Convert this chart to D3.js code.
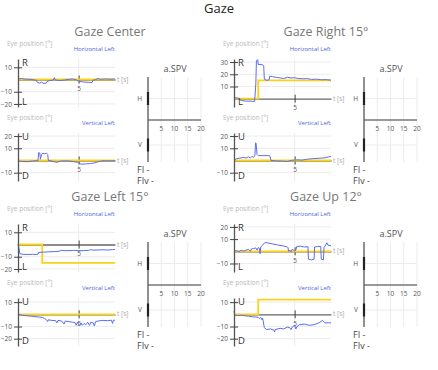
<!DOCTYPE html>
<html>
<head>
<meta charset="utf-8">
<style>
  body { margin: 0; background: #fff; font-family: "Open Sans", sans-serif; }
</style>
</head>
<body>
<div id="container"></div>
<script src="https://cdn.jsdelivr.net/npm/d3@7"></script>
<script>

// chart size
const width = 438;
const height = 370;

// ---- data ----
const panelTitles = ["Gaze Center", "Gaze Right 15°", "Gaze Left 15°", "Gaze Up 12°"];
const hLabels = ["Horizontal Left", "Horizontal Left", "Horizontal Left", "Horizontal Left"];
const vLabels = ["Vertical Left", "Vertical Left", "Vertical Left", "Vertical Left"];

const hDomains = [[-22.5, 16.8], [-6.8, 32.5], [-22.5, 16.8], [-17, 22.4]];
const vDomains = [[-16.8, 22.5], [-16.8, 22.5], [-26, 13.4], [-26, 13.4]];
const hTicks = [[10, -10, -20], [30, 20, 10], [10, -10, -20], [20, 10, -10]];
const vTicks = [[20, 10, -10], [20, 10, -10], [10, -10, -20], [10, -10, -20]];
const tTicks = [5];

// target positions [t, deg]
const centerHTarget = [[0, 0], [8, 0]];
const centerVTarget = [[0, 0], [8, 0]];
const rightHTarget = [[0, 0], [2, 0], [2, 15], [8, 15]];
const rightVTarget = [[0, 0], [8, 0]];
const leftHTarget = [[0, 0], [2, 0], [2, -15], [8, -15]];
const leftVTarget = [[0, 0], [8, 0]];
const upHTarget = [[0, 0], [8, 0]];
const upVTarget = [[0, 0], [2, 0], [2, 12], [8, 12]];

// eye positions [t, deg]
const centerH = [[0,0.5],[0.3,0.8],[0.6,0.3],[1.0,0.2],[1.3,-0.3],[1.5,-0.5],[1.6,-2.5],[1.8,-3],[1.95,-2],[2.05,-3.2],[2.3,-3],[2.4,-1.5],[2.6,-0.8],[2.9,-0.5],[3.0,1.5],[3.05,-0.3],[3.4,-0.8],[3.8,-0.5],[4.2,0.2],[4.5,0.5],[4.8,-0.2],[5.0,-1.5],[5.4,-2],[5.8,-2.3],[6.1,-2.5],[6.2,-0.5],[6.4,0],[6.6,0.8],[6.8,0.2],[7.2,0.5],[7.6,0.3],[8,0.4]];
const centerV = [[0,-0.5],[0.4,-0.8],[0.8,-1],[1.2,-0.5],[1.5,-0.2],[1.65,0],[1.7,6.5],[1.8,6],[1.85,1],[1.95,5],[2.05,6],[2.2,5.5],[2.35,6],[2.45,5],[2.5,0],[2.8,-0.5],[3.2,-1.5],[3.5,-0.5],[4,-0.3],[4.5,-0.8],[4.9,-1.5],[5.2,-3],[5.6,-2.8],[6,-2.5],[6.3,-2],[6.6,-1],[7,-0.2],[7.5,-0.3],[8,-0.2]];
const rightH = [[0,1],[0.3,0.5],[0.6,-1.5],[1.0,-2],[1.4,-2],[1.7,-2.2],[1.8,12],[1.85,31],[1.95,32],[2.0,28],[2.3,28],[2.45,27],[2.5,16],[2.7,15],[2.9,15.5],[2.95,18.5],[3.2,18],[3.5,17.5],[3.8,17],[4.1,16.5],[4.4,17.5],[4.7,17],[5.0,17.2],[5.3,16.5],[5.7,16.3],[6.0,16.5],[6.4,15.8],[6.8,16],[7.2,15.5],[7.6,15.6],[8,15.2]];
const rightV = [[0,0],[0.2,1.5],[0.5,2],[0.8,2.5],[1.0,2],[1.2,3],[1.35,2],[1.5,3.5],[1.6,2.5],[1.72,4],[1.78,14.5],[1.82,14],[1.9,5],[2.0,4],[2.4,4],[2.8,4],[2.95,3.8],[3.05,0],[3.5,-0.3],[4.0,-0.5],[4.4,-0.8],[4.8,0.2],[5.2,0.5],[5.6,0.3],[6.0,1.0],[6.5,1.5],[7.0,1.8],[7.5,2.2],[7.8,3],[8,3.2]];
const leftH = [[0,0],[0.08,-3],[0.15,-7.5],[0.4,-8],[0.8,-8.2],[1.2,-8],[1.5,-8.2],[1.65,-8],[1.7,-6.5],[2.0,-6.3],[2.5,-6],[3.0,-5.8],[3.4,-5.5],[3.6,-4.7],[3.8,-5],[4.2,-5],[4.6,-4.8],[5.0,-5],[5.4,-5],[5.8,-4.8],[6.0,-4.2],[6.2,-4.6],[6.6,-4.5],[7.0,-4.3],[7.4,-4.5],[7.8,-4.2],[8,-4]];
const leftV = [[0,0],[0.2,-0.5],[0.5,-1],[0.9,-1.3],[1.3,-1.8],[1.7,-2.2],[2.0,-2.5],[2.2,-3.5],[2.35,-4.5],[2.45,-6],[2.5,-4.5],[2.8,-5],[3.1,-5.2],[3.2,-7],[3.3,-5],[3.6,-5.5],[3.8,-8],[3.9,-5.5],[4.2,-6],[4.5,-6.5],[4.7,-6.8],[4.8,-9],[4.9,-6.5],[5.0,-8.5],[5.1,-9],[5.2,-7],[5.3,-9],[5.45,-7.5],[5.6,-8.5],[5.75,-6.5],[5.9,-9],[6.0,-6.5],[6.2,-7],[6.3,-9.5],[6.4,-6],[6.6,-5.5],[7.0,-5],[7.4,-5.2],[7.7,-4.8],[7.8,-7.5],[7.85,-5],[8,-4.8]];
const upH = [[0,0],[0.2,0.5],[0.4,-0.2],[0.6,0.8],[0.8,0.2],[1.0,1],[1.2,1.5],[1.35,0],[1.45,2],[1.6,2.2],[1.8,2.8],[1.9,1],[2.0,3],[2.1,2.5],[2.15,-2],[2.2,3.5],[2.3,4.5],[2.55,7.2],[2.8,6.8],[3.2,6],[3.6,5.2],[4.0,4.5],[4.4,3.6],[4.45,3],[4.5,0],[4.6,1],[4.7,-0.5],[4.8,1.5],[5.0,0.5],[5.1,1],[5.18,4],[5.5,4.2],[5.8,3.5],[6.1,3.8],[6.14,-6.5],[6.4,-7],[6.6,-6.5],[6.65,3.5],[6.9,4],[7.15,4],[7.2,-6.5],[7.38,-7],[7.42,3],[7.55,5],[7.66,7],[7.75,5],[8,4.5]];
const upV = [[0,3],[0.05,-0.5],[0.3,-1],[0.6,-0.8],[0.9,-1.2],[1.2,-1.5],[1.5,-2],[1.8,-2.2],[2.0,-2.5],[2.1,-3.5],[2.2,-2.5],[2.3,-4.5],[2.35,-3],[2.4,-5],[2.5,-11],[2.7,-12.5],[3.0,-12],[3.3,-13],[3.35,-14.5],[3.4,-12.5],[3.8,-11.5],[4.1,-12],[4.4,-10.5],[4.6,-11],[4.7,-12.5],[4.8,-10.5],[5.0,-9],[5.1,-12],[5.2,-10],[5.4,-8.5],[5.8,-8],[6.2,-9],[6.6,-8.5],[7.0,-7],[7.3,-5],[7.5,-7],[8,-7]];

// a.SPV mini chart
const spvCategories = ["H", "V"];
const spvTicks = [5, 10, 15, 20];
const spvValues = [0, 0];
const fiLabels = ["FI -", "FIv -"];

const hEye = [centerH, rightH, leftH, upH];
const vEye = [centerV, rightV, leftV, upV];
const hTarget = [centerHTarget, rightHTarget, leftHTarget, upHTarget];
const vTarget = [centerVTarget, rightVTarget, leftVTarget, upVTarget];

// quadrant positions
const offsets = [[0, 0], [216, 0], [0, 165], [216, 165]];

const svg = d3.create("svg")
    .attr("width", width)
    .attr("height", height)
    .attr("font-family", "Open Sans, sans-serif");

svg.append("text")
    .attr("x", 219).attr("y", 13)
    .attr("text-anchor", "middle")
    .attr("font-size", 13)
    .attr("fill", "#222")
    .text("Gaze");

const x = d3.scaleLinear().domain([0, 8]).range([18, 115]);

function trace(g, top, label, sides, domain, ticks, eye, target) {
    const y = d3.scaleLinear().domain(domain).range([top + 48, top]);

    g.append("text").attr("x", 7).attr("y", top - 13)
        .attr("font-size", 6.5).attr("fill", "#b8b8b8")
        .text("Eye position [°]");
    g.append("text").attr("x", 115).attr("y", top - 8)
        .attr("text-anchor", "end")
        .attr("font-size", 6).attr("fill", "#4a66d6")
        .text(label);

    // grid
    g.append("g").selectAll("line").data(ticks).join("line")
        .attr("x1", x(0)).attr("x2", x(8))
        .attr("y1", d => y(d)).attr("y2", d => y(d))
        .attr("stroke", "#ececec");
    g.append("g").selectAll("line").data(tTicks).join("line")
        .attr("x1", d => x(d)).attr("x2", d => x(d))
        .attr("y1", top).attr("y2", top + 48)
        .attr("stroke", "#ececec");

    // time axis at zero
    g.append("g")
        .attr("transform", `translate(0,${y(0)})`)
        .call(d3.axisBottom(x).tickValues(tTicks).tickSize(4).tickSizeOuter(0).tickPadding(3))
        .call(a => a.attr("font-family", null).attr("font-size", 6.5))
        .call(a => a.select(".domain").attr("stroke", "#666").attr("stroke-width", 1.3))
        .call(a => a.selectAll(".tick line").attr("y1", -4).attr("stroke", "#444"))
        .call(a => a.selectAll(".tick text").attr("fill", "#555"));
    g.append("text").attr("x", 117).attr("y", y(0)).attr("dy", "0.32em")
        .attr("font-size", 6.5).attr("fill", "#aaa").text("t [s]");

    const line = d3.line().x(d => x(d[0])).y(d => y(d[1]));
    g.append("path").attr("d", line(target))
        .attr("fill", "none").attr("stroke", "#fcd116").attr("stroke-width", 1.8);
    g.append("path").attr("d", line(eye))
        .attr("fill", "none").attr("stroke", "#5b6cf5").attr("stroke-width", 1)
        .attr("stroke-linejoin", "round");

    // y axis
    g.append("g")
        .attr("transform", `translate(${x(0)},0)`)
        .call(d3.axisLeft(y).tickValues(ticks).tickSize(4).tickSizeOuter(0).tickPadding(2))
        .call(a => a.attr("font-family", null).attr("font-size", 6.5))
        .call(a => a.select(".domain").attr("stroke", "#555").attr("stroke-width", 1.3))
        .call(a => a.selectAll(".tick line").attr("x2", 4).attr("x1", -4).attr("stroke", "#444"))
        .call(a => a.selectAll(".tick text").attr("x", -6).attr("fill", "#555"));

    g.append("text").attr("x", 22).attr("y", top + 7)
        .attr("font-size", 9.5).attr("fill", "#333").text(sides[0]);
    g.append("text").attr("x", 22).attr("y", top + 46)
        .attr("font-size", 9.5).attr("fill", "#333").text(sides[1]);
}

function spv(g) {
    const sx = d3.scaleLinear().domain([0, 20]).range([148, 201]);
    const sy = d3.scalePoint().domain(spvCategories).range([98.5, 145]);

    g.append("text").attr("x", 175).attr("y", 72)
        .attr("text-anchor", "middle").attr("font-size", 9).attr("fill", "#555")
        .text("a.SPV");

    g.append("g").selectAll("line").data(spvTicks).join("line")
        .attr("x1", d => sx(d)).attr("x2", d => sx(d))
        .attr("y1", 77).attr("y2", 162).attr("stroke", "#ececec");
    g.append("g").selectAll("line").data(spvCategories).join("line")
        .attr("x1", sx(0)).attr("x2", sx(20))
        .attr("y1", d => sy(d)).attr("y2", d => sy(d)).attr("stroke", "#ececec");

    g.append("line").attr("x1", sx(0)).attr("x2", sx(20)).attr("y1", 120).attr("y2", 120)
        .attr("stroke", "#777").attr("stroke-width", 1.3);
    g.append("g").selectAll("text").data(spvTicks).join("text")
        .attr("x", d => sx(d)).attr("y", 131)
        .attr("text-anchor", "middle").attr("font-size", 6.5).attr("fill", "#555")
        .text(d => d);

    g.append("line").attr("x1", sx(0)).attr("x2", sx(0)).attr("y1", 77).attr("y2", 162)
        .attr("stroke", "#555").attr("stroke-width", 1.3);
    g.append("g").selectAll("text").data(spvCategories).join("text")
        .attr("x", 142).attr("y", d => sy(d)).attr("dy", "0.32em")
        .attr("text-anchor", "end").attr("font-size", 6.5).attr("fill", "#555")
        .text(d => d);

    g.append("g").selectAll("rect").data(spvValues).join("rect")
        .attr("x", sx(0) - 1.1)
        .attr("width", d => Math.max(2.2, sx(d) - sx(0)))
        .attr("y", (d, i) => sy(spvCategories[i]) - 6.5)
        .attr("height", 13)
        .attr("fill", "#222");

    g.append("g").selectAll("text").data(fiLabels).join("text")
        .attr("x", 137).attr("y", (d, i) => 173 + i * 10.5)
        .attr("font-size", 9).attr("fill", "#444")
        .text(d => d);
}

panelTitles.forEach((title, i) => {
    const g = svg.append("g")
        .attr("transform", `translate(${offsets[i][0]},${offsets[i][1]})`);

    g.append("text").attr("x", 110).attr("y", 36)
        .attr("text-anchor", "middle").attr("font-size", 12.5).attr("fill", "#777")
        .text(title);

    trace(g, 59, hLabels[i], ["R", "L"], hDomains[i], hTicks[i], hEye[i], hTarget[i]);
    trace(g, 133, vLabels[i], ["U", "D"], vDomains[i], vTicks[i], vEye[i], vTarget[i]);
    spv(g);
});

container.append(svg.node());
</script>
</body>
</html>
